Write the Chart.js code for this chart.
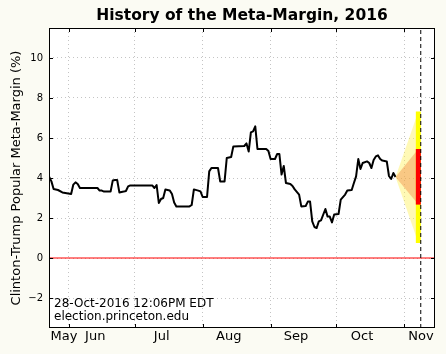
<!DOCTYPE html>
<html>
<head>
<meta charset="utf-8">
<script src="https://cdn.jsdelivr.net/npm/chart.js@4"></script>
<style>
html, body { margin: 0; padding: 0; background: #fbfbf3; }
canvas { display: block; }
</style>
</head>
<body>
<canvas id="chart" width="446" height="354"></canvas>
<script>
'use strict';

// day of year 2016 (Jan 1 = 1) and the Meta-Margin
const days = [
    144, 145, 146, 148, 150, 154, 155, 156, 157, 158, 166, 167, 168, 169, 172, 173, 174, 175, 176, 178,
    179, 180, 181, 191, 192, 193, 194, 195, 196, 197, 199, 200, 201, 202, 208, 209, 210, 212, 213, 214,
    216, 217, 218, 221, 222, 224, 225, 227, 228, 233, 234, 235, 236, 237, 238, 239, 243, 244, 245, 247,
    248, 249, 250, 251, 252, 254, 255, 256, 258, 259, 261, 262, 263, 264, 265, 266, 267, 268, 270, 271,
    272, 273, 274, 276, 277, 279, 280, 282, 283, 284, 285, 286, 287, 289, 290, 291, 292, 293, 294, 295,
    296, 297, 298, 299, 300, 301, 302,
];
const margins = [
    4.05, 3.83, 3.45, 3.40, 3.28, 3.20, 3.67, 3.78, 3.70, 3.50, 3.50, 3.37, 3.37, 3.32, 3.32, 3.88, 3.90, 3.90, 3.28, 3.32,
    3.35, 3.58, 3.63, 3.63, 3.50, 3.65, 2.75, 2.95, 3.00, 3.42, 3.38, 3.20, 2.78, 2.58, 2.58, 2.65, 3.43, 3.37, 3.33, 3.05,
    3.05, 4.33, 4.50, 4.50, 3.83, 3.83, 5.00, 5.05, 5.58, 5.60, 5.73, 5.32, 6.28, 6.33, 6.58, 5.45, 5.45, 5.35, 4.95, 4.95,
    5.20, 5.20, 4.17, 4.60, 3.75, 3.70, 3.60, 3.43, 3.17, 2.58, 2.60, 2.82, 2.82, 1.83, 1.55, 1.50, 1.83, 1.88, 2.45, 2.07,
    2.07, 1.78, 2.17, 2.20, 2.92, 3.17, 3.37, 3.40, 3.75, 4.08, 4.95, 4.45, 4.75, 4.83, 4.75, 4.50, 4.90, 5.08, 5.13, 4.95,
    4.87, 4.85, 4.83, 4.10, 3.95, 4.25, 4.05,
];

// forecast for election day
const forecastDays  = [302, 312.4];
const forecastOuter = [0.75, 7.33];
const forecastInner = [2.67, 5.45];
const electionDay   = 313.5;

// axes
const xRange      = [143.9, 320.0];
const yRange      = [-3.5, 11.5];
const yTicks      = [-2, 0, 2, 4, 6, 8, 10];
const monthStarts = [153, 183, 214, 245, 275, 306];
const monthLabels = ['May', 'Jun', 'Jul', 'Aug', 'Sep', 'Oct', 'Nov'];
const labelDays   = [150.7, 165, 195.3, 225.9, 256.6, 286.7, 313.6];

const titleText  = 'History of the Meta-Margin, 2016';
const stampLines = ['28-Oct-2016 12:06PM EDT', 'election.princeton.edu'];

const FONT = "'DejaVu Sans', sans-serif";
const lastVal = margins[margins.length - 1];

const frame = {
    id: 'frame',
    beforeDraw(chart) {
        const { ctx, chartArea: a } = chart;
        ctx.save();
        ctx.fillStyle = '#fbfbf3';
        ctx.fillRect(0, 0, chart.width, chart.height);
        ctx.fillStyle = '#ffffff';
        ctx.fillRect(a.left, a.top, a.right - a.left, a.bottom - a.top);
        ctx.restore();
    },
    afterDraw(chart) {
        const { ctx, chartArea: a, scales: { x, y } } = chart;
        ctx.save();
        ctx.strokeStyle = '#000';
        ctx.lineWidth = 1;
        ctx.strokeRect(a.left + 0.5, a.top + 0.5, a.right - a.left - 1, a.bottom - a.top - 1);
        ctx.beginPath();
        monthStarts.forEach(d => {
            const px = Math.round(x.getPixelForValue(d)) + 0.5;
            ctx.moveTo(px, a.bottom); ctx.lineTo(px, a.bottom - 4);
            ctx.moveTo(px, a.top);    ctx.lineTo(px, a.top + 4);
        });
        yTicks.forEach(v => {
            const py = Math.round(y.getPixelForValue(v)) + 0.5;
            ctx.moveTo(a.left, py);  ctx.lineTo(a.left + 4, py);
            ctx.moveTo(a.right, py); ctx.lineTo(a.right - 4, py);
        });
        ctx.stroke();

        ctx.fillStyle = '#000';
        ctx.textBaseline = 'alphabetic';
        ctx.textAlign = 'center';
        ctx.font = 'bold 15.5px ' + FONT;
        ctx.fillText(titleText, (a.left + a.right) / 2, a.top - 8);

        ctx.textAlign = 'left';
        ctx.font = '12px ' + FONT;
        ctx.fillText(stampLines[0], a.left + 5, a.bottom - 21.5);
        ctx.fillText(stampLines[1], a.left + 5, a.bottom - 8);
        ctx.restore();
    }
};

const seg = (xs, ys) => xs.map((d, i) => ({ x: d, y: ys[i] }));

new Chart(document.getElementById('chart'), {
    type: 'line',
    data: {
        datasets: [
            {   // election day
                data: seg([electionDay, electionDay], yRange),
                borderColor: '#000', borderWidth: 1, borderDash: [4, 3], order: 0,
            },
            {   // inner forecast bar
                data: seg([forecastDays[1], forecastDays[1]], forecastInner),
                borderColor: '#ff0000', borderWidth: 5, borderCapStyle: 'butt', order: 1,
            },
            {   // outer forecast bar
                data: seg([forecastDays[1], forecastDays[1]], forecastOuter),
                borderColor: '#ffff00', borderWidth: 5, borderCapStyle: 'butt', order: 2,
            },
            {   // inner cone
                data: seg(forecastDays, [lastVal, forecastInner[1]]),
                borderWidth: 0, borderColor: 'rgba(0,0,0,0)',
                backgroundColor: 'rgba(240,120,50,0.38)', fill: '+1', order: 3,
            },
            {
                data: seg(forecastDays, [lastVal, forecastInner[0]]),
                borderWidth: 0, borderColor: 'rgba(0,0,0,0)', order: 4,
            },
            {   // outer cone
                data: seg(forecastDays, [lastVal, forecastOuter[1]]),
                borderWidth: 0, borderColor: 'rgba(0,0,0,0)',
                backgroundColor: 'rgba(255,240,80,0.42)', fill: '+1', order: 5,
            },
            {
                data: seg(forecastDays, [lastVal, forecastOuter[0]]),
                borderWidth: 0, borderColor: 'rgba(0,0,0,0)', order: 6,
            },
            {   // meta-margin history
                data: seg(days, margins),
                borderColor: '#000', borderWidth: 2, borderJoinStyle: 'round', order: 7,
            },
            {   // zero line
                data: seg(xRange, [0, 0]),
                borderColor: '#ff0000', borderWidth: 1.2, order: 8,
            },
        ]
    },
    options: {
        responsive: false,
        animation: false,
        devicePixelRatio: 1,
        layout: { padding: { top: 28, right: 11, bottom: 0, left: 0 } },
        elements: { point: { radius: 0 }, line: { tension: 0 } },
        plugins: {
            legend: { display: false },
            tooltip: { enabled: false },
            title: { display: false },
        },
        scales: {
            x: {
                type: 'linear', min: xRange[0], max: xRange[1],
                afterBuildTicks: s => {
                    s.ticks = [...monthStarts, ...labelDays].sort((a, b) => a - b).map(v => ({ value: v }));
                },
                afterFit: s => { s.height = 26; },
                grid: {
                    drawTicks: false,
                    color: c => monthStarts.includes(c.tick && c.tick.value) ? '#c4c4c4' : 'rgba(0,0,0,0)',
                },
                border: { display: false, dash: [1, 3] },
                ticks: {
                    autoSkip: false, maxRotation: 0, minRotation: 0, padding: 1,
                    color: '#000', font: { family: FONT, size: 13 },
                    callback: v => { const i = labelDays.indexOf(v); return i >= 0 ? monthLabels[i] : ''; },
                },
            },
            y: {
                type: 'linear', min: yRange[0], max: yRange[1],
                afterBuildTicks: s => { s.ticks = yTicks.map(v => ({ value: v })); },
                afterFit: s => { s.width = 49; },
                grid: { drawTicks: false, color: '#c4c4c4' },
                border: { display: false, dash: [1, 3] },
                ticks: {
                    padding: 6, color: '#000', font: { family: FONT, size: 10 },
                    callback: v => v < 0 ? '\u2212' + Math.abs(v) : String(v),
                },
                title: {
                    display: true,
                    text: 'Clinton-Trump Popular Meta-Margin (%)',
                    color: '#000',
                    font: { family: FONT, size: 13 },
                    padding: { top: 9, bottom: 0 },
                },
            },
        },
    },
    plugins: [frame],
});
</script>
</body>
</html>
